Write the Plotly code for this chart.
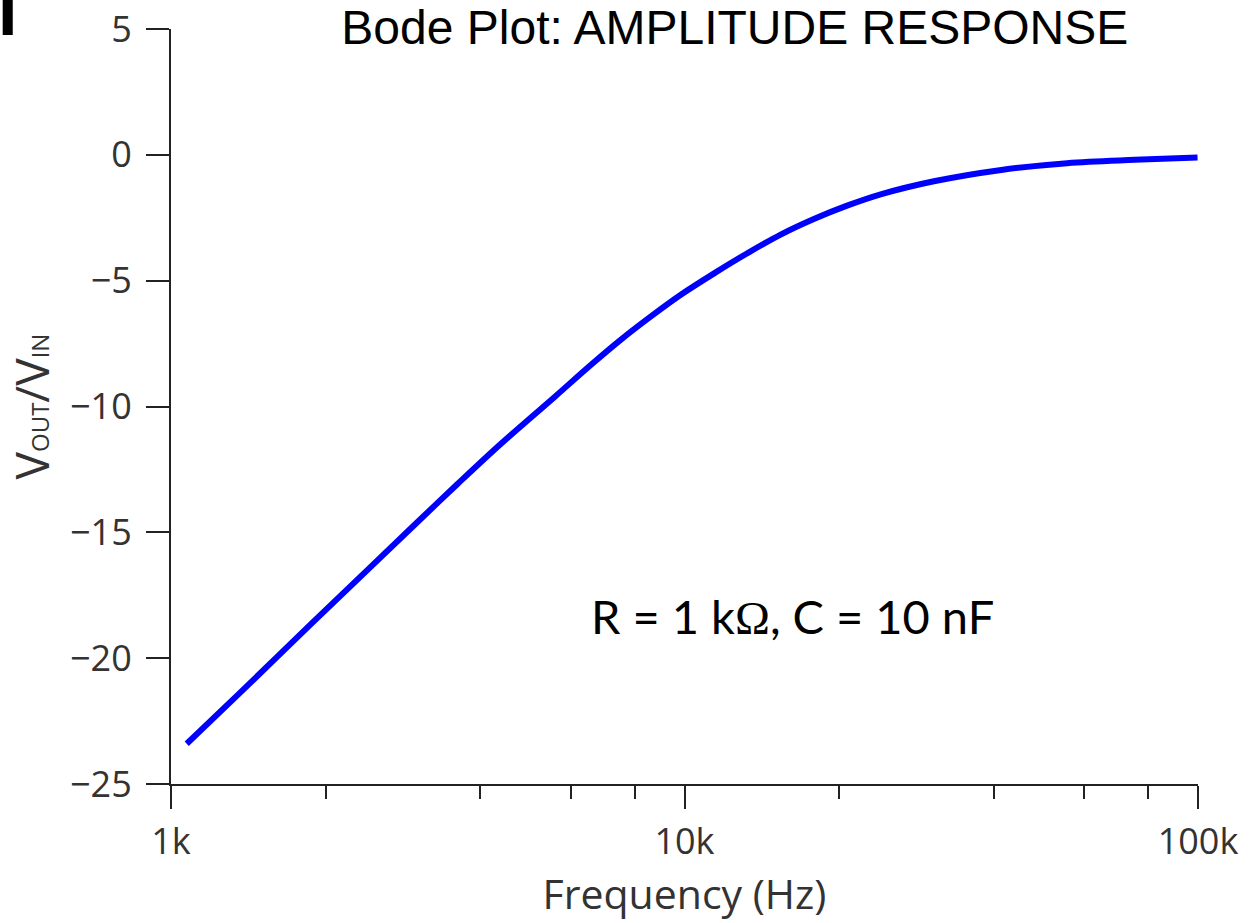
import plotly.graph_objects as go

# Data
freq_hz = [1073, 1343, 1866, 2440, 3010, 3605, 4380, 5600, 6560, 7500,
           8590, 9820, 11440, 13280, 15390, 17860, 20730, 24100, 30600,
           41400, 55600, 75300, 99800]
gain_db = [-23.4, -21.5, -18.68, -16.4, -14.62, -13.1, -11.5, -9.6, -8.36, -7.36,
           -6.43, -5.57, -4.70, -3.90, -3.17, -2.55, -2.02, -1.57, -1.05,
           -0.6, -0.33, -0.2, -0.11]

major_x_vals = [1000, 10000, 100000]
major_x_text = ["1k", "10k", "100k"]
minor_x_vals = [2000, 4000, 6000, 8000, 20000, 40000, 60000, 80000]
y_vals = [5, 0, -5, -10, -15, -20, -25]
y_text = ["5", "0", "\u22125", "\u221210", "\u221215", "\u221220", "\u221225"]

TICK_FONT = dict(family="Open Sans", size=36, color="#333333")
AXIS_COLOR = "#222222"

fig = go.Figure()
fig.add_trace(go.Scatter(
    x=freq_hz, y=gain_db, mode="lines",
    line=dict(color="#0000FF", width=6, shape="spline", smoothing=1),
    showlegend=False, hoverinfo="x+y",
))

fig.update_layout(
    width=1257, height=923,
    margin=dict(l=171, r=59, t=29, b=139, pad=0),
    paper_bgcolor="white", plot_bgcolor="white",
    title=dict(
        text="Bode Plot: AMPLITUDE RESPONSE",
        font=dict(family="Liberation Sans, Arial", size=48, color="black"),
        xref="paper", x=0.549, xanchor="center",
        yref="container", y=1 - 10 / 923, yanchor="top",
    ),
    xaxis=dict(
        type="log", range=[3, 5],
        showgrid=False, zeroline=False,
        showline=True, linecolor=AXIS_COLOR, linewidth=2,
        ticks="outside", ticklen=23, tickwidth=2, tickcolor=AXIS_COLOR,
        tickmode="array", tickvals=major_x_vals, ticktext=major_x_text,
        tickfont=TICK_FONT, ticklabelstandoff=2,
        minor=dict(tickmode="array", tickvals=minor_x_vals, ticks="outside",
                   ticklen=13, tickwidth=2, tickcolor=AXIS_COLOR, showgrid=False),
        title=dict(text="Frequency (Hz)",
                   font=dict(family="Open Sans", size=41, color="#333333"),
                   standoff=5),
        automargin=False,
    ),
    yaxis=dict(
        range=[-25, 5],
        showgrid=False, zeroline=False,
        showline=True, linecolor=AXIS_COLOR, linewidth=2,
        ticks="outside", ticklen=23, tickwidth=2, tickcolor=AXIS_COLOR,
        tickmode="array", tickvals=y_vals, ticktext=y_text,
        tickfont=TICK_FONT, ticklabelstandoff=7,
        title=dict(text="V<span style='font-size:24px'>OUT</span>/V<span style='font-size:24px'>IN</span>",
                   font=dict(family="Open Sans", size=46, color="#333333"),
                   standoff=22),
        automargin=False,
    ),
    annotations=[
        dict(text="R = 1 k<span style='font-family:Liberation Serif'>\u03a9</span>, C = 10 nF",
             xref="paper", yref="paper", x=0.605, y=0.222,
             xanchor="center", yanchor="middle", showarrow=False,
             font=dict(family="Lato", size=47, color="black")),
        dict(text="<b>I</b>", xref="paper", yref="paper", x=-0.1665, y=0.974,
             xanchor="left", yanchor="bottom", xshift=-4, yshift=-3, showarrow=False,
             font=dict(family="Liberation Sans, Arial", size=70, color="black")),
    ],
)

fig.write_html("out.html", config={"displayModeBar": False},
               post_script="document.body.style.margin='0px';")
